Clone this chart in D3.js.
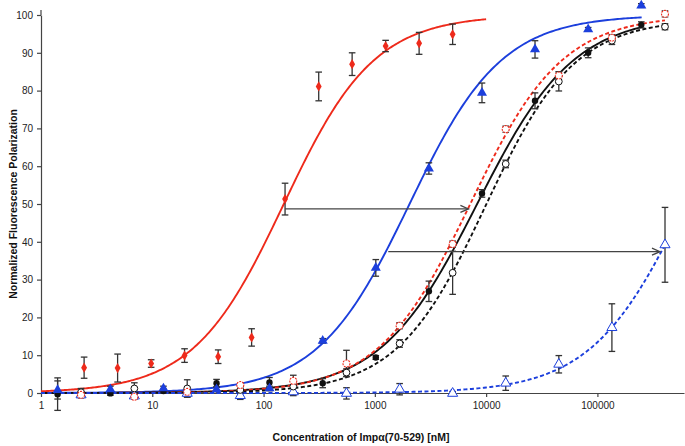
<!DOCTYPE html>
<html>
<head>
<meta charset="utf-8">
<script src="https://cdn.jsdelivr.net/npm/d3@7"></script>
<style>
  html, body { margin: 0; padding: 0; background: #fff; }
  svg { display: block; }
  text { font-family: "Liberation Sans", Arial, sans-serif; }
</style>
</head>
<body>
<svg id="chart" width="685" height="446"></svg>
<script>
// ---------- data ----------
// concentrations [nM]
const concRedFilled = [2.44, 4.88, 9.77, 19.5, 39.1, 78.1, 156, 313, 625, 1250, 2500, 5000];
const concFilled3   = [1.41, 4.2, 12.6, 37.8, 113, 340, 1020, 3060, 9180, 27500, 82600, 248000];
const concOpen3     = [2.29, 6.9, 20.6, 61.8, 185, 556, 1670, 5000, 15000, 45000, 135000, 405000];

// red filled diamonds (solid red fit)
const redFilledVals = [6.7, 6.6, 7.8, 9.9, 9.6, 14.7, 51.3, 81.1, 87.0, 91.8, 92.5, 94.9];
const redFilledErr  = [2.8, 3.7, 1.0, 1.8, 1.8, 2.3, 4.2, 3.8, 3.0, 1.5, 2.9, 2.7];
// blue filled triangles (solid blue fit)
const blueFilledVals = [0.8, 1.0, 1.2, 1.0, 1.2, 13.8, 33.1, 59.4, 79.4, 90.9, 96.2, 102.5];
const blueFilledErr  = [2.4, 0.8, 0.6, 0.6, 0.6, 0.6, 2.2, 1.5, 2.6, 2.3, 0.5, 0.5];
// black filled circles (solid black fit)
const blackFilledVals = [-0.3, -0.1, 0.5, 2.6, 2.8, 2.6, 9.4, 26.9, 52.8, 77.3, 90.0, 97.4];
const blackFilledErr  = [4.3, 0.5, 0.5, 1.0, 1.3, 1.2, 0.5, 2.7, 1.0, 2.1, 1.3, 0.8];
// black open circles (dashed black fit)
const openCircleVals = [0.2, 1.2, 1.2, 0.8, 1.7, 5.4, 13.1, 31.8, 60.6, 82.4, 93.2, 96.9];
const openCircleErr  = [1.0, 1.5, 2.3, 1.0, 1.5, 1.0, 1.0, 5.7, 1.0, 2.5, 1.0, 0.8];
// red open markers (dashed red fit)
const redOpenVals = [-0.5, -1.0, 0.3, 2.1, 3.2, 7.8, 17.8, 39.4, 69.8, 84.0, 94.0, 100.3];
const redOpenErr  = [0.5, 0.5, 0.5, 0.5, 1.5, 3.5, 0.8, 0.8, 0.8, 1.0, 0.8, 0.8];
// blue open triangles (dashed blue fit)
const blueOpenVals = [-0.5, -0.8, -0.1, -0.7, 0.3, -0.1, 1.0, -0.1, 2.6, 7.6, 17.3, 39.2];
const blueOpenErr  = [0.8, 0.8, 1.0, 1.0, 1.0, 1.5, 1.5, 0.5, 1.9, 2.3, 6.3, 9.9];

// fitted dose-response parameters (EC50 [nM], Hill slope, top, curve end [nM])
const fitNames = ["redSolid", "blueSolid", "blackSolid", "redDashed", "blackDashed", "blueDashed"];
const fitEC50  = [152, 2050, 8300, 7200, 9880, 622000];
const fitHill  = [1.07, 1.05, 1.0, 1.05, 1.087, 1.02];
const fitTop   = [100, 100, 100, 100, 99, 100];
const fitEnd   = [10000, 250000, 250000, 405000, 405000, 405000];

// arrows (shift of half-saturation)
const arrowFrom  = [156, 1320];
const arrowTo    = [6930, 365000];
const arrowLevel = [48.7, 37.4];

// axis ticks
const xTicks = [1, 10, 100, 1000, 10000, 100000];
const yTicks = [0, 10, 20, 30, 40, 50, 60, 70, 80, 90, 100];

// ---------- drawing ----------
const RED = "#ee2a1b", BLUE = "#1c3fdc", BLACK = "#111111", GREY = "#333333";
const svg = d3.select("#chart");
const x = d3.scaleLog().domain([1, 600000]).range([41, 684]);
const y = d3.scaleLinear().domain([0, 100]).range([393, 15]);

// axes
const xAxis = svg.append("g").attr("transform", "translate(0,393)")
  .call(d3.axisBottom(x).tickValues(xTicks).tickFormat(d3.format("d")).tickSize(4).tickSizeOuter(0).tickPadding(5));
const yAxis = svg.append("g").attr("transform", "translate(41,0)")
  .call(d3.axisLeft(y).tickValues(yTicks).tickSize(4).tickSizeOuter(0).tickPadding(4));
[xAxis, yAxis].forEach(g => {
  g.selectAll("path, line").attr("stroke", "#444").attr("stroke-width", 1.2);
  g.selectAll("text").attr("fill", "#222").style("font-size", "10px");
});
svg.append("line").attr("x1", 41).attr("x2", 41).attr("y1", 10).attr("y2", 15)
  .attr("stroke", "#444").attr("stroke-width", 1.2);

// titles
svg.append("text").attr("x", 361).attr("y", 441).attr("text-anchor", "middle")
  .style("font-size", "10.5px").style("font-weight", "bold").attr("fill", "#111")
  .text("Concentration of Impα(70-529) [nM]");
svg.append("text").attr("transform", "translate(17,204) rotate(-90)").attr("text-anchor", "middle")
  .style("font-size", "10.5px").style("font-weight", "bold").attr("fill", "#111")
  .text("Normalized Fluorescence Polarization");

// fitted curves
const fitStyle = {
  redSolid: [RED, null], blueSolid: [BLUE, null], blackSolid: [BLACK, null],
  redDashed: [RED, "4,2.5"], blackDashed: [BLACK, "4,2.5"], blueDashed: [BLUE, "4,2.5"]
};
const line = d3.line().x(d => x(d[0])).y(d => y(d[1])).curve(d3.curveLinear);
fitNames.forEach((name, i) => {
  const lo = 0, hi = Math.log10(fitEnd[i]);
  const pts = d3.range(0, 301).map(k => {
    const c = Math.pow(10, lo + (hi - lo) * k / 300);
    return [c, fitTop[i] / (1 + Math.pow(fitEC50[i] / c, fitHill[i]))];
  });
  svg.append("path").datum(pts).attr("d", line).attr("fill", "none")
    .attr("stroke", fitStyle[name][0]).attr("stroke-width", 1.9)
    .attr("stroke-dasharray", fitStyle[name][1]);
});

// series definitions
const series = [
  {conc: concOpen3, vals: blueOpenVals, err: blueOpenErr, shape: "triOpen", color: BLUE},
  {conc: concFilled3, vals: blackFilledVals, err: blackFilledErr, shape: "dot", color: BLACK},
  {conc: concOpen3, vals: openCircleVals, err: openCircleErr, shape: "circleOpen", color: BLACK},
  {conc: concOpen3, vals: redOpenVals, err: redOpenErr, shape: "redOpen", color: RED},
  {conc: concFilled3, vals: blueFilledVals, err: blueFilledErr, shape: "triFilled", color: BLUE},
  {conc: concRedFilled, vals: redFilledVals, err: redFilledErr, shape: "diamond", color: RED}
];

// error bars
const eb = svg.append("g").attr("stroke", GREY).attr("stroke-width", 1.3).attr("fill", "none");
series.forEach(s => {
  s.conc.forEach((c, i) => {
    const cx = x(c), y1 = y(s.vals[i] + s.err[i]), y2 = y(s.vals[i] - s.err[i]);
    eb.append("line").attr("x1", cx).attr("x2", cx).attr("y1", y1).attr("y2", y2);
    eb.append("line").attr("x1", cx - 3.3).attr("x2", cx + 3.3).attr("y1", y1).attr("y2", y1);
    eb.append("line").attr("x1", cx - 3.3).attr("x2", cx + 3.3).attr("y1", y2).attr("y2", y2);
  });
});

// markers
const sym = (type, size) => d3.symbol().type(type).size(size)();
series.forEach(s => {
  const g = svg.append("g");
  s.conc.forEach((c, i) => {
    const t = `translate(${x(c)},${y(s.vals[i])})`;
    if (s.shape === "dot") {
      g.append("circle").attr("transform", t).attr("r", 3.2).attr("fill", BLACK);
    } else if (s.shape === "circleOpen") {
      g.append("circle").attr("transform", t).attr("r", 3.4).attr("fill", "#fff")
        .attr("stroke", BLACK).attr("stroke-width", 1);
    } else if (s.shape === "redOpen") {
      g.append("circle").attr("transform", t).attr("r", 3.5).attr("fill", "#fff")
        .attr("stroke", RED).attr("stroke-width", 1.1).attr("stroke-dasharray", "2,1");
    } else if (s.shape === "triFilled") {
      g.append("path").attr("transform", t).attr("d", sym(d3.symbolTriangle, 44)).attr("fill", BLUE);
    } else if (s.shape === "triOpen") {
      g.append("path").attr("transform", t).attr("d", sym(d3.symbolTriangle, 44)).attr("fill", "#fff")
        .attr("stroke", BLUE).attr("stroke-width", 1);
    } else if (s.shape === "diamond") {
      g.append("path").attr("transform", t).attr("d", sym(d3.symbolDiamond, 30)).attr("fill", RED);
    }
  });
});

// arrows
const ag = svg.append("g").attr("stroke", "#444").attr("stroke-width", 1.3).attr("fill", "none");
arrowFrom.forEach((a, i) => {
  const x1 = x(a), x2 = x(arrowTo[i]), yy = y(arrowLevel[i]);
  ag.append("line").attr("x1", x1).attr("x2", x2).attr("y1", yy).attr("y2", yy);
  ag.append("path").attr("d", `M${x2 - 8},${yy - 3.5} L${x2},${yy} L${x2 - 8},${yy + 3.5}`);
});
</script>
</body>
</html>
